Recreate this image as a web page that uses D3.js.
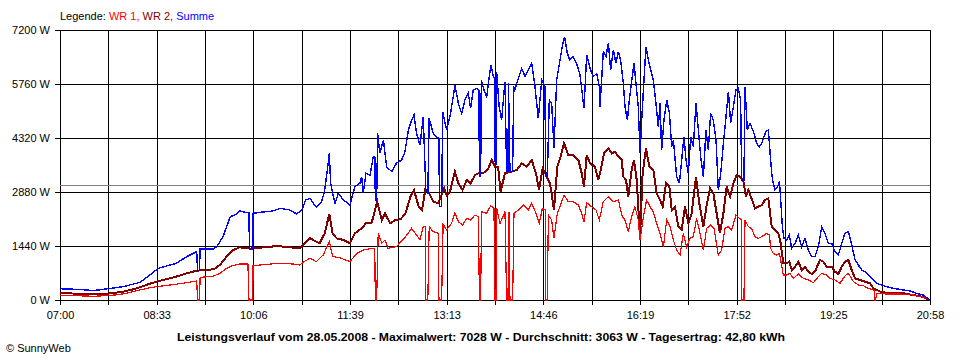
<!DOCTYPE html>
<html><head><meta charset="utf-8">
<script src="https://cdn.jsdelivr.net/npm/d3@7"></script>
<style>
body{margin:0;background:#fff}
svg text{font-family:"Liberation Sans",Arial,sans-serif;font-size:11px;fill:#000}
</style>
</head><body>
<svg id="chart" width="960" height="360"></svg>
<script>
// ---- data (time = minutes after 07:00, value = W) ----
const xTickLabels = ["07:00","08:33","10:06","11:39","13:13","14:46","16:19","17:52","19:25","20:58"];
const yTickValues = [0,1440,2880,4320,5760,7200];
const dayMinutes = 838;
const averageW = 3063;
const legendItems = [["WR 1, ","#ff0000"],["WR 2, ","#800000"],["Summe","#0000ff"]];
const titleText = "Leistungsverlauf vom 28.05.2008 - Maximalwert: 7028 W - Durchschnitt: 3063 W - Tagesertrag: 42,80 kWh";
const footerText = "© SunnyWeb";

const wr1 = [[0,120],[20,110],[32,100],[46,116],[55,140],[64,178],[70,220],[77,267],[85,320],[93,356],[100,380],[106,400],[114,430],[122,462],[131.7,507],[132.5,0],[134.3,0],[135,604],[142,620],[148,640],[154,711],[160.5,844],[165,907],[173,960],[181,960],[182,0],[185.6,0],[186,916],[192.6,933],[200,950],[208.6,978],[216,970],[224.7,960],[231,933],[236,1040],[240.8,1111],[247,1022],[253.5,1200],[259.4,1556],[262.6,1156],[268,1138],[274,1080],[279.3,1022],[285.8,1244],[292,1333],[300,1378],[303.2,1380],[303.7,0],[305,0],[306.5,1778],[310,1511],[313,1600],[316,1378],[324,1422],[332.8,1689],[338.7,1911],[343.5,1733],[346.7,1600],[349.9,1956],[352,1950],[352.4,0],[354.3,0],[355.6,1956],[359.5,1822],[364.4,1778],[365,0],[367.6,0],[369,2027],[372.4,1867],[377.2,2044],[380.4,2329],[383.7,2089],[387.8,2000],[391.7,2178],[395.5,2133],[399.7,2267],[403,2222],[404,0],[405.2,0],[406,2356],[411,2311],[414.8,2516],[418,2444],[419,0],[420,0],[420.6,2444],[423.8,2044],[428.6,2356],[430.2,0],[431.5,0],[432.5,2356],[433.4,0],[436,0],[437.3,2311],[441.5,2400],[446.3,2533],[451,2400],[454.3,2578],[458.5,2311],[461.7,2044],[464.6,2444],[467.5,2400],[468,0],[469.4,0],[470.4,2267],[473.6,2133],[475.8,1644],[479,2311],[482.2,2533],[485.5,2800],[489.6,2622],[494.4,2622],[499.3,2533],[502.5,2311],[504.7,2089],[507.3,2596],[512,2489],[516.3,2400],[519.5,2133],[523.3,2622],[528.2,2756],[533,2622],[537.8,2667],[541.6,2222],[544.2,2133],[547.4,1822],[550.6,2222],[553.8,2489],[557,2133],[558.7,1600],[562,2222],[565,2667],[568.3,2489],[571.5,2356],[574.7,2044],[578,1778],[581.2,1422],[584.4,2133],[587.6,1956],[590.8,1600],[594,1333],[597.2,1200],[600.4,1778],[603.6,1422],[606.8,1644],[610,1689],[613.2,2178],[616.5,1778],[619.7,1333],[622.9,1911],[626.7,2000],[629.9,1911],[634.1,1200],[637.3,1333],[640.5,1911],[643.8,1956],[647,1867],[651.1,2267],[654.4,2178],[656.2,2150],[656.6,0],[658.8,0],[659.8,2133],[663,1956],[666,1911],[669.5,1689],[672.7,1644],[676,1689],[680.7,1778],[683.3,1733],[684.5,1378],[687,1244],[690.3,1200],[693,1244],[695,933],[696.7,667],[700,667],[703,711],[706.4,578],[711.2,693],[716,578],[720.8,533],[725.6,462],[730.5,622],[733.7,711],[738.5,667],[741.7,578],[746.5,533],[751.3,444],[756,640],[759.4,711],[764.2,489],[769,400],[773.8,382],[778.6,311],[783.4,267],[784.5,260],[785,0],[785.6,0],[786.7,178],[796.3,160],[809,160],[822,133],[828.4,89],[835,60],[838,0]];

const wr2 = [[0,178],[20,170],[32,160],[46,170],[61,222],[70,280],[77,338],[85,420],[93,489],[100,540],[106,578],[114,640],[122,711],[131.7,782],[140,800],[148,818],[154,933],[160.5,1156],[167,1333],[173,1404],[183,1369],[192.6,1396],[200,1410],[208.6,1440],[216,1420],[224.7,1396],[231,1378],[236,1511],[240.8,1644],[244,1600],[250,1511],[255,1778],[259.4,2293],[262.6,1778],[266.5,1644],[273,1600],[279.3,1511],[284,1778],[290.6,1911],[294.7,2044],[300,2044],[305.6,2622],[310,2133],[313,2311],[318,2044],[323,2133],[328,2151],[332.8,2311],[337.6,2756],[341,2933],[345.5,2489],[348.7,2400],[351.8,2933],[355.6,2844],[359.5,2622],[364.4,2578],[370,2978],[372.4,2800],[375.6,2889],[380.4,3422],[383.7,3111],[387.8,2933],[391.7,3200],[395.5,3111],[399.7,3333],[403,3378],[407.7,3378],[412.6,3511],[415.8,3733],[419,3556],[422,3556],[424.4,2889],[428.6,3378],[435,3422],[439.9,3467],[444.7,3644],[449.5,3556],[454.3,3733],[458.5,3378],[461.4,2933],[464.9,3511],[468.8,3289],[472,3111],[475.8,2400],[479,3556],[482.2,3822],[485.5,4178],[489.6,3867],[494.4,3867],[499.3,3733],[502.5,3378],[504.7,3022],[507.3,3867],[510.5,3644],[515.3,3556],[518.5,3200],[520.8,3467],[524,3911],[528.2,4044],[531.4,3911],[534.6,3956],[537.8,3822],[541,3733],[542.6,3289],[545.2,3200],[547.4,2756],[550.6,3467],[552.9,3733],[555.5,3200],[558.7,1689],[561.2,3378],[564.4,4044],[567.7,3556],[571.5,3467],[574.7,2844],[578,2667],[580.5,2489],[583.7,3111],[587,3022],[589.2,2400],[592.4,2489],[595.6,1956],[598.8,1867],[602,2489],[605.2,2044],[608.4,2311],[612.6,3289],[615.8,2578],[619.7,1956],[622.9,2533],[626.1,2978],[629.3,2844],[632.5,2311],[635.7,1778],[639,2311],[642.1,3022],[645.4,2756],[648.6,3111],[651.8,3333],[655,3289],[658,3200],[660.8,2756],[663,2933],[666,2711],[669.5,2444],[672.7,2489],[676,2533],[679,2667],[682.3,2711],[684,2311],[685.5,1956],[688.7,1867],[692,1778],[694.2,1511],[696.7,978],[700,978],[702.5,1022],[704.8,800],[708,889],[711.2,1022],[714.4,800],[717.6,889],[720.8,756],[724,693],[727.2,756],[732,1067],[735.3,1022],[738.5,889],[743.3,889],[746.5,756],[749.7,693],[753,889],[756,1022],[759.4,1067],[762.6,800],[765.8,578],[770.6,533],[775.4,489],[780.2,444],[783.4,311],[790,222],[799.5,178],[812.3,178],[822,133],[830,89],[838,0]];

const summe = [[0,300],[20,280],[32,250],[46,300],[61,356],[77,471],[86.7,667],[94.7,844],[106,933],[112,978],[122,1156],[131.7,1289],[132.5,782],[134.3,782],[135,1360],[147.7,1360],[151,1422],[157,1689],[164,2222],[168.6,2267],[173,2382],[178,2338],[182,2330],[182.5,1351],[185.6,1351],[186,2311],[192.6,2338],[205,2373],[212,2444],[221.5,2400],[228,2293],[233,2400],[236.6,2667],[241,2711],[244,2578],[247,2489],[252,2622],[255,2933],[257.5,3467],[259.4,3911],[260.7,3111],[262.6,2844],[265,2578],[268,2844],[273,2667],[279.3,2533],[284,3022],[289,3111],[290.6,3289],[292,2844],[294.7,3378],[298.6,3333],[301.8,3822],[303.4,3800],[303.7,2667],[305,2667],[306,4444],[308,3911],[311.5,4267],[314.6,3556],[319.5,3422],[324,3644],[329,3733],[332,3911],[335.6,4533],[338.7,4800],[341,4933],[343.5,4444],[346.7,4133],[349.9,4889],[352.4,2933],[354.3,2844],[355.6,4844],[359.5,4444],[362.7,4356],[365,4300],[365.5,2489],[367.6,2489],[368.6,5022],[372.4,4533],[375.6,4889],[378.8,5422],[380.4,5733],[383.7,5244],[386.9,4978],[390,5333],[393.3,5511],[395.5,5111],[398,5600],[401.3,5644],[403.5,5600],[404,3289],[405.2,3289],[405.8,5867],[408.4,5600],[411,5422],[413.5,5956],[415,6267],[417.4,5956],[418.5,5900],[419,3689],[420,3600],[420.6,6089],[423,5156],[425.4,4800],[428.6,5822],[430.2,3422],[431.5,3422],[432,5778],[433.4,3422],[436,3422],[437,5700],[438,5600],[441.5,5911],[444.7,6178],[448,5956],[451,6133],[454.3,6311],[457.5,5689],[460.7,4844],[464,5867],[467,5689],[468,3289],[469.4,3289],[471.3,5333],[473.6,5244],[475.8,4044],[478.4,5867],[481.6,6400],[484,6800],[486,7022],[488.7,6578],[491,6400],[494.4,6489],[497.6,6311],[500.9,6000],[504.7,5111],[507.3,6533],[510.5,6178],[513.7,5956],[517,6044],[519.5,5689],[520.1,5156],[521.7,5867],[523.3,6622],[525.9,6489],[528.2,6862],[530.4,6133],[533,6667],[535.5,6311],[537.8,6622],[540,6400],[542.6,5778],[544.2,5156],[546.5,4800],[548.4,5333],[550.6,5822],[552.9,6311],[554.8,5778],[557,5156],[558.7,3911],[560.3,4800],[562.5,5867],[564.4,6756],[566.7,6400],[569,6133],[571.5,5867],[574,5244],[576.3,4622],[578,5244],[579.5,4000],[581.8,4800],[584.4,5333],[587,4978],[589.2,4089],[590.8,4267],[594,3289],[596.6,3111],[598.8,3733],[601,4356],[603,3733],[605.2,3378],[607.5,4356],[610,4089],[612.6,5244],[614.9,4533],[617.1,3822],[619.7,3289],[622.2,4533],[624.5,4000],[626.7,4978],[629.3,4800],[631.9,4267],[634.1,2933],[636.4,3378],[639,4178],[641.5,4889],[643.8,5556],[646,4711],[648.6,5156],[651.1,5600],[653.4,5644],[655.6,5333],[656.6,3200],[658.8,3200],[659.8,5689],[662,4533],[664.6,4711],[666,4622],[668.5,4444],[671,4178],[673.6,4089],[676,4178],[677.5,4311],[680,4489],[682.3,4533],[684,3911],[685.5,3378],[687,3111],[688.7,2933],[691,3022],[693,3156],[694.2,2667],[695.8,1956],[697.4,1644],[700,1600],[702.5,1733],[704.8,1378],[708,1511],[711.2,1733],[714.4,1422],[717.6,1644],[720.8,1333],[724,1156],[727.2,1156],[730.5,1422],[733.7,1956],[736.9,1778],[740,1511],[743.3,1511],[746.5,1289],[749.7,1200],[753,1511],[756,1778],[759.4,1822],[762.6,1467],[765.8,1067],[769,933],[772.2,800],[775.4,756],[778.6,667],[781.8,578],[786.7,444],[793,382],[802.7,311],[812.3,267],[818.8,240],[825,178],[831.6,133],[838,0]];

// ---- drawing ----
const svg = d3.select("#chart");
const L = 60, R = 930, T = 30, B = 300;
const x = d3.scaleLinear().domain([0, dayMinutes]).range([L, R]);
const y = d3.scaleLinear().domain([0, 7200]).range([B, T]);

// vertical grid (18 intervals), labels on every second line
const gridTimes = d3.range(19).map(i => i * dayMinutes / 18);
const xAxis = d3.axisBottom(x)
  .tickValues(gridTimes)
  .tickSize(B - T + 5)
  .tickPadding(6)
  .tickFormat((d, i) => i % 2 === 0 ? xTickLabels[i / 2] : "");
const gx = svg.append("g").attr("transform", `translate(0,${T})`).call(xAxis);
gx.select(".domain").remove();
gx.selectAll("line").attr("stroke", "#000").attr("shape-rendering", "crispEdges");
gx.selectAll("text").style("font-family", '"Liberation Sans",Arial,sans-serif').style("font-size", "11px");

// horizontal grid with labels
const yAxis = d3.axisLeft(y)
  .tickValues(yTickValues)
  .tickSize(R - L + 5)
  .tickPadding(5)
  .tickFormat(d => d + " W");
const gy = svg.append("g").attr("transform", `translate(${R},0)`).call(yAxis);
gy.select(".domain").remove();
gy.selectAll("line").attr("stroke", "#000").attr("shape-rendering", "crispEdges");
gy.selectAll("text").style("font-family", '"Liberation Sans",Arial,sans-serif').style("font-size", "11px");

// average line
svg.append("line")
  .attr("x1", L).attr("x2", R)
  .attr("y1", Math.round(y(averageW)) + 0.5).attr("y2", Math.round(y(averageW)) + 0.5)
  .attr("stroke", "#808080").attr("stroke-width", 1);

const line = d3.line().x(d => x(d[0])).y(d => y(d[1]));
const series = [
  {data: wr2, color: "#800000", w: 2},
  {data: wr1, color: "#ff0000", w: 1.2},
  {data: summe, color: "#0000ff", w: 1.4}
];
series.forEach(s => {
  svg.append("path").datum(s.data)
    .attr("d", line)
    .attr("fill", "none")
    .attr("stroke", s.color)
    .attr("stroke-width", s.w)
    .attr("shape-rendering", "crispEdges")
    .attr("stroke-linejoin", "miter");
});

// legend
const lg = svg.append("text").attr("x", 60).attr("y", 20);
lg.append("tspan").text("Legende: ");
legendItems.forEach(([t, c]) => lg.append("tspan").style("fill", c).text(t));

// title
svg.append("text")
  .attr("x", 481).attr("y", 341)
  .attr("text-anchor", "middle")
  .style("font-weight", "bold")
  .attr("textLength", 608).attr("lengthAdjust", "spacingAndGlyphs")
  .text(titleText);

// footer
svg.append("text").attr("x", 6).attr("y", 352).text(footerText);
</script>
</body></html>
